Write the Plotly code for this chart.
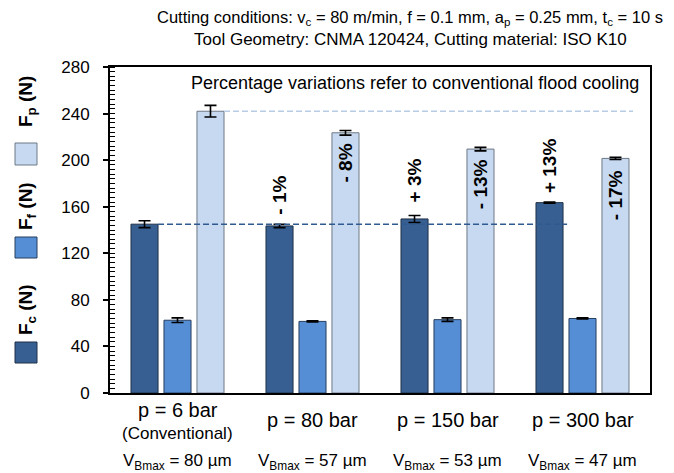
import plotly.graph_objects as go

# ---- data ----
categories = ["p = 6 bar", "p = 80 bar", "p = 150 bar", "p = 300 bar"]
sublabels = ["(Conventional)", "", "", ""]
vbmax = [80, 57, 53, 47]
series_names = ["F<sub>c</sub> (N)", "F<sub>f</sub> (N)", "F<sub>p</sub> (N)"]
fc = [145, 143.5, 149.5, 163.5]
fc_err = [3, 1.5, 3, 0.5]
ff = [62.5, 61.5, 63, 64]
ff_err = [2, 0.5, 1.5, 0.5]
fp = [242, 223.5, 209.5, 201.5]
fp_err = [5, 2, 1.5, 1]
fc_pct = ["", "- 1%", "+ 3%", "+ 13%"]
fp_pct = ["", "- 8%", "- 13%", "- 17%"]
y_ticks = [0, 40, 80, 120, 160, 200, 240, 280]

# ---- style ----
colors = ["#375F91", "#558ED5", "#C6D9F1"]
edge = ["#1F3047", "#263E5E", "#6E7885"]
W, H = 674, 473
ml, mr, mt, mb = 110, 24, 67, 80
pw, ph = W - ml - mr, H - mt - mb
bargap, bargroupgap = 0.267, 0.18
slot = (1 - bargap) / 3
bw = slot * (1 - bargroupgap)
x = list(range(len(categories)))

def px2paper_x(px):
    return (px - ml) / pw

def px2paper_y(py):
    return (H - mb - py) / ph

fig = go.Figure()
for name, vals, errs, c, e in zip(series_names, [fc, ff, fp], [fc_err, ff_err, fp_err], colors, edge):
    fig.add_trace(go.Bar(
        x=x, y=vals, name=name,
        marker=dict(color=c, line=dict(color=e, width=1)),
        error_y=dict(type="data", array=errs, color="black", thickness=1.6, width=6),
        showlegend=False, hoverinfo="skip",
    ))

# reference dashed lines (conventional values)
fig.add_shape(type="line", xref="x", yref="y",
              x0=x[0] - slot + bw / 2, x1=x[-1] - slot + bw / 2 + 0.03,
              y0=fc[0], y1=fc[0], line=dict(color="#2F5A8F", width=1.6, dash="6px,3px"), layer="above")
fig.add_shape(type="line", xref="x", yref="y",
              x0=x[0] + slot + bw / 2, x1=x[-1] + slot + bw / 2 + 0.03,
              y0=fp[0], y1=fp[0], line=dict(color="#B8CCE4", width=1.6, dash="6px,3px"), layer="above")

annotations = []
# percentage labels
fc_lab_y = [None, 151.5, 161.5, 170]
for i in range(1, 4):
    annotations.append(dict(x=x[i] - slot, y=fc_lab_y[i], xref="x", yref="y", text="<b>%s</b>" % fc_pct[i],
                            textangle=-90, showarrow=False, yanchor="bottom", xanchor="center",
                            font=dict(size=19, color="black", family="Arial")))
fp_lab_y = [None, 216, 203, 193.5]
for i in range(1, 4):
    annotations.append(dict(x=x[i] + slot, y=fp_lab_y[i], xref="x", yref="y", text="<b>%s</b>" % fp_pct[i],
                            textangle=-90, showarrow=False, yanchor="top", xanchor="center",
                            font=dict(size=19, color="black", family="Arial")))

# category labels
for i, cat in enumerate(categories):
    if sublabels[i]:
        annotations.append(dict(x=x[i], y=px2paper_y(410), xref="x", yref="paper", text=cat,
                                showarrow=False, yanchor="middle", font=dict(size=20, color="black")))
        annotations.append(dict(x=x[i], y=px2paper_y(433), xref="x", yref="paper", text=sublabels[i],
                                showarrow=False, yanchor="middle", font=dict(size=17, color="black")))
    else:
        annotations.append(dict(x=x[i], y=px2paper_y(420), xref="x", yref="paper", text=cat,
                                showarrow=False, yanchor="middle", font=dict(size=20, color="black")))
    annotations.append(dict(x=x[i], y=px2paper_y(462), xref="x", yref="paper",
                            text="V<sub>Bmax</sub> = %d µm" % vbmax[i],
                            showarrow=False, yanchor="middle", font=dict(size=17, color="black")))

# titles
annotations.append(dict(x=px2paper_x(410), y=px2paper_y(18), xref="paper", yref="paper",
                        text="Cutting conditions: v<sub>c</sub> = 80 m/min, f = 0.1 mm, a<sub>p</sub> = 0.25 mm, t<sub>c</sub> = 10 s",
                        showarrow=False, yanchor="middle", font=dict(size=16.5, color="black")))
annotations.append(dict(x=px2paper_x(410), y=px2paper_y(39), xref="paper", yref="paper",
                        text="Tool Geometry: CNMA 120424, Cutting material: ISO K10",
                        showarrow=False, yanchor="middle", font=dict(size=17, color="black")))
annotations.append(dict(x=px2paper_x(641), y=px2paper_y(83), xref="paper", yref="paper",
                        text="Percentage variations refer to conventional flood cooling",
                        showarrow=False, xanchor="right", yanchor="middle", font=dict(size=18, color="black")))

# custom vertical legend on the left
leg_sq = [(342, 363), (237, 258), (143, 165)]
leg_txt = [310, 206, 102]
for i, name in enumerate(series_names):
    y0, y1 = leg_sq[i]
    fig.add_shape(type="rect", xref="paper", yref="paper",
                  x0=px2paper_x(15), x1=px2paper_x(37), y0=px2paper_y(y1), y1=px2paper_y(y0),
                  fillcolor=colors[i], line=dict(color=edge[i], width=1))
    annotations.append(dict(x=px2paper_x(27), y=px2paper_y(leg_txt[i]), xref="paper", yref="paper",
                            text="<b>%s</b>" % name, textangle=-90, showarrow=False,
                            xanchor="center", yanchor="middle", font=dict(size=19, color="black")))

fig.update_layout(
    width=W, height=H,
    margin=dict(l=ml, r=mr, t=mt, b=mb),
    paper_bgcolor="white", plot_bgcolor="white",
    barmode="group", bargap=bargap, bargroupgap=bargroupgap,
    font=dict(family="Arial", color="black"),
    annotations=annotations,
    xaxis=dict(range=[-0.5, 3.5], showticklabels=False, ticks="",
               showline=True, linecolor="black", linewidth=2, mirror=True, showgrid=False, zeroline=False),
    yaxis=dict(range=[0, 280], tickvals=y_ticks, ticks="outside", ticklen=5, tickwidth=1.5, tickcolor="black",
               tickfont=dict(size=17, color="black"), ticklabelstandoff=10,
               minor=dict(dtick=4, ticks="inside", ticklen=5, tickwidth=1, tickcolor="black"),
               showline=True, linecolor="black", linewidth=2, mirror=True, showgrid=False, zeroline=False),
)

fig.write_html("out.html", post_script="document.body.style.margin='0';",
               config={"displayModeBar": False})
